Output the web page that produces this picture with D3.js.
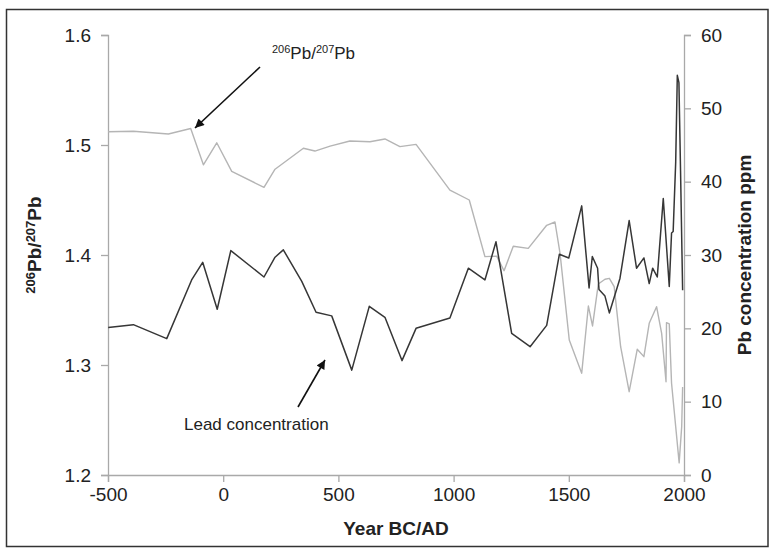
<!DOCTYPE html>
<html>
<head>
<meta charset="utf-8">
<script src="https://cdn.jsdelivr.net/npm/d3@7"></script>
<style>
  html, body { margin: 0; padding: 0; background: #fff; }
  svg { display: block; font-family: "Liberation Sans", Arial, sans-serif; }
</style>
</head>
<body>
<svg id="chart" width="769" height="548"></svg>
<script>
// ---- data ----
const xTicks = [-500, 0, 500, 1000, 1500, 2000];
const leftTicks = [1.2, 1.3, 1.4, 1.5, 1.6];
const rightTicks = [0, 10, 20, 30, 40, 50, 60];

const ratioYears = [-500,-390,-238,-141,-86,-28,37,177,225,348,398,464,550,637,702,767,837,984,1068,1136,1187,1219,1259,1324,1404,1440,1462,1502,1556,1585,1603,1628,1657,1676,1697,1725,1762,1797,1826,1849,1881,1903,1922,1924,1936,1946,1979,1990,1994];
const ratioValues = [1.512,1.5125,1.510,1.515,1.482,1.502,1.476,1.4615,1.478,1.497,1.4945,1.499,1.5036,1.503,1.5055,1.4985,1.5006,1.459,1.450,1.3985,1.399,1.3857,1.408,1.406,1.427,1.430,1.4015,1.3227,1.2925,1.3536,1.3355,1.3736,1.378,1.3788,1.3712,1.3166,1.2757,1.3143,1.3076,1.3379,1.353,1.3288,1.2848,1.3385,1.3373,1.2834,1.211,1.244,1.280];

const leadYears = [-499,-390,-245,-137,-89,-26,33,177,225,261,341,403,471,558,634,702,776,837,984,1064,1136,1184,1252,1332,1404,1459,1500,1556,1588,1602,1625,1631,1657,1676,1722,1762,1794,1826,1849,1864,1884,1910,1936,1946,1953,1964,1971,1978,1985,1994];
const leadValues = [20.1,20.5,18.6,26.6,29.0,22.6,30.6,27.0,29.7,30.7,26.4,22.2,21.7,14.3,23.0,21.5,15.6,20.0,21.4,28.2,26.6,31.8,19.3,17.5,20.4,30.1,29.6,36.7,25.5,29.8,28.2,25.3,24.4,22.1,26.8,34.7,28.2,29.6,26.1,28.2,27.0,37.7,25.7,33.0,33.2,42.7,54.5,53.5,41.5,25.2];

// ---- layout ----
const svg = d3.select("#chart");
const plot = { left: 108, right: 684, top: 35, bottom: 475 };
const axisColor = "#a9a9a9";
const textColor = "#222";

const x = d3.scaleLinear().domain([-500, 2000]).range([plot.left, plot.right]);
const yL = d3.scaleLinear().domain([1.2, 1.6]).range([plot.bottom, plot.top]);
const yR = d3.scaleLinear().domain([0, 60]).range([plot.bottom, plot.top]);

// frame
svg.append("rect").attr("x", 6.5).attr("y", 9.5).attr("width", 761.5).attr("height", 537)
  .attr("fill", "none").attr("stroke", "#333").attr("stroke-width", 1.5);

function styleAxis(g) {
  g.select(".domain").attr("stroke", axisColor).attr("stroke-width", 1.3);
  g.selectAll(".tick line").attr("stroke", axisColor).attr("stroke-width", 1.3);
  g.selectAll(".tick text").attr("fill", textColor).attr("font-size", 19)
    .attr("font-family", "Liberation Sans, Arial, sans-serif");
}

// left axis
svg.append("g").attr("transform", `translate(${plot.left},0)`)
  .call(d3.axisLeft(yL).tickValues(leftTicks).tickFormat(d => d.toFixed(1)).tickSizeOuter(0).tickSize(7).tickPadding(10))
  .call(styleAxis);

// right axis
svg.append("g").attr("transform", `translate(${plot.right},0)`)
  .call(d3.axisRight(yR).tickValues(rightTicks).tickFormat(d => String(d)).tickSizeOuter(0).tickSize(7).tickPadding(10))
  .call(styleAxis);

// bottom axis
svg.append("g").attr("transform", `translate(0,${plot.bottom})`)
  .call(d3.axisBottom(x).tickValues(xTicks).tickFormat(d => String(d)).tickSizeOuter(0).tickSize(7).tickPadding(6))
  .call(styleAxis);

// lines
const ratioData = ratioYears.map((yr, i) => [yr, ratioValues[i]]);
const leadData = leadYears.map((yr, i) => [yr, leadValues[i]]);

svg.append("path").datum(ratioData)
  .attr("fill", "none").attr("stroke", "#b5b5b5").attr("stroke-width", 1.4)
  .attr("stroke-linejoin", "round")
  .attr("d", d3.line().x(d => x(d[0])).y(d => yL(d[1])));

svg.append("path").datum(leadData)
  .attr("fill", "none").attr("stroke", "#363636").attr("stroke-width", 1.5)
  .attr("stroke-linejoin", "round")
  .attr("d", d3.line().x(d => x(d[0])).y(d => yR(d[1])));

// axis titles
svg.append("text").attr("x", 396).attr("y", 535).attr("text-anchor", "middle")
  .attr("font-size", 19).attr("font-weight", "bold").attr("fill", textColor).text("Year BC/AD");

const lt = svg.append("text").attr("transform", "translate(41,245) rotate(-90)")
  .attr("text-anchor", "middle").attr("font-weight", "bold").attr("fill", textColor).attr("font-size", 19);
lt.append("tspan").attr("font-size", 13).attr("dy", -6).text("206");
lt.append("tspan").attr("dy", 6).text("Pb/");
lt.append("tspan").attr("font-size", 13).attr("dy", -6).text("207");
lt.append("tspan").attr("dy", 6).text("Pb");

svg.append("text").attr("transform", "translate(751,255) rotate(-90)")
  .attr("text-anchor", "middle").attr("font-size", 19).attr("font-weight", "bold")
  .attr("fill", textColor).text("Pb concentration ppm");

// annotations
const a1 = svg.append("text").attr("x", 272).attr("y", 59).attr("font-size", 17).attr("fill", textColor);
a1.append("tspan").attr("font-size", 11).attr("dy", -6).text("206");
a1.append("tspan").attr("dy", 6).text("Pb/");
a1.append("tspan").attr("font-size", 11).attr("dy", -6).text("207");
a1.append("tspan").attr("dy", 6).text("Pb");

svg.append("text").attr("x", 184).attr("y", 430).attr("font-size", 17).attr("fill", textColor)
  .text("Lead concentration");

svg.append("defs").append("marker").attr("id", "ah")
  .attr("viewBox", "0 0 10 10").attr("refX", 10).attr("refY", 5)
  .attr("markerWidth", 11).attr("markerHeight", 9).attr("markerUnits", "userSpaceOnUse")
  .attr("orient", "auto")
  .append("path").attr("d", "M0,0 L10,5 L0,10 Z").attr("fill", "#111");

svg.append("line").attr("x1", 260).attr("y1", 67).attr("x2", 195).attr("y2", 128)
  .attr("stroke", "#111").attr("stroke-width", 1.6).attr("marker-end", "url(#ah)");
svg.append("line").attr("x1", 298).attr("y1", 407).attr("x2", 325).attr("y2", 360)
  .attr("stroke", "#111").attr("stroke-width", 1.6).attr("marker-end", "url(#ah)");
</script>
</body>
</html>
